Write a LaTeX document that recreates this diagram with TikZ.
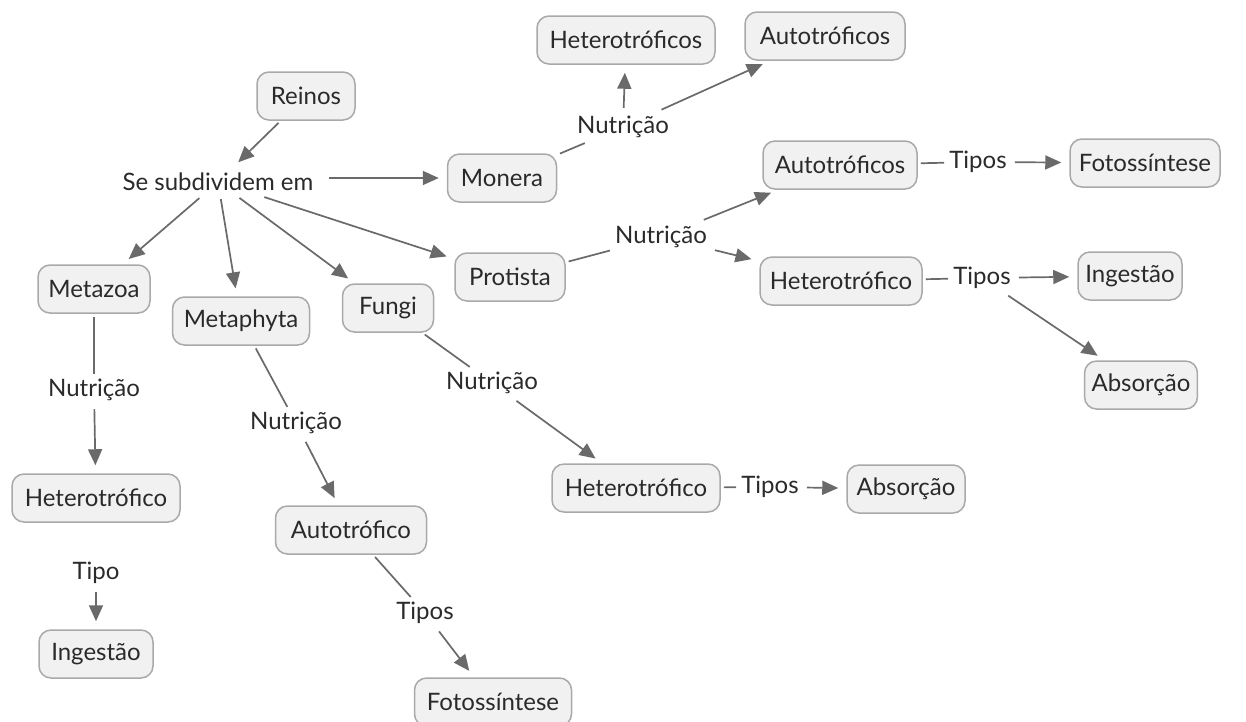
\documentclass[tikz,border=0pt]{standalone}
\usepackage{fontspec}
\setmainfont{Lato}
\usetikzlibrary{arrows.meta}
\definecolor{lnc}{HTML}{6A6A6A}
\definecolor{bd}{HTML}{A9A9A9}
\definecolor{bx}{HTML}{F1F1F1}
\definecolor{tx}{HTML}{2A2A2A}
\begin{document}
\begin{tikzpicture}[x=1pt,y=-1pt,
 every node/.style={font=\fontsize{24}{28}\selectfont, text=tx},
 cbox/.style={draw=bd, line width=1.5pt, fill=bx, rounded corners=12pt, minimum height=48pt, minimum width=#1, inner sep=7pt},
 lbl/.style={inner sep=5pt},
 ln/.style={draw=lnc, line width=1.7pt, shorten <=3pt},
 arr/.style={ln, -{Triangle[length=16pt,width=14pt]}, shorten >=8pt}]
\useasboundingbox[fill=white] (0,0) rectangle (1246,721);
% nodes
\node[cbox=98pt] (reinos) at (306,96) {Reinos};
\node[lbl] (se) at (218,182) {Se subdividem em};
\node[cbox=109pt] (monera) at (502,178) {Monera};
\node[lbl] (nutM) at (623,127) {Nutrição};
\node[cbox=178pt] (hetM) at (626,40) {Heterotróficos};
\node[cbox=160pt] (autM) at (825,36) {Autotróficos};
\node[cbox=110pt] (protista) at (510,277) {Protista};
\node[lbl] (nutP) at (661,237) {Nutrição};
\node[cbox=154pt] (autP) at (840,165) {Autotróficos};
\node[lbl] (tipAP) at (978,162) {Tipos};
\node[cbox=150pt] (fotP) at (1145,163) {Fotossíntese};
\node[cbox=162pt] (hetP) at (841,281) {Heterotrófico};
\node[lbl] (tipHP) at (982,278) {Tipos};
\node[cbox=104pt] (ingP) at (1130,276) {Ingestão};
\node[cbox=112pt] (absP) at (1141,385) {Absorção};
\node[cbox=112pt] (metazoa) at (94,289) {Metazoa};
\node[lbl] (nutMz) at (94,390) {Nutrição};
\node[cbox=168pt] (hetMz) at (96,498) {Heterotrófico};
\node[lbl] (tipMz) at (96,573) {Tipo};
\node[cbox=114pt] (ingMz) at (96,654) {Ingestão};
\node[cbox=137pt] (metaphyta) at (241,321) {Metaphyta};
\node[lbl] (nutMp) at (296,423) {Nutrição};
\node[cbox=151pt] (autMp) at (351,530) {Autotrófico};
\node[lbl] (tipMp) at (425,613) {Tipos};
\node[cbox=157pt] (fotMp) at (493,702) {Fotossíntese};
\node[cbox=91pt] (fungi) at (388,308) {Fungi};
\node[lbl] (nutF) at (492,383) {Nutrição};
\node[cbox=168pt] (hetF) at (636,488) {Heterotrófico};
\node[lbl] (tipF) at (770,487) {Tipos};
\node[cbox=118pt] (absF) at (906,489) {Absorção};
% connectors
\draw[arr] (reinos) -- (se);
\draw[arr, shorten <=10pt] (se.east |- monera) -- (monera);
\draw[arr] (se) -- (metazoa);
\draw[arr] (se) -- (metaphyta);
\draw[arr] (se) -- (fungi);
\draw[arr] (se) -- (protista);
\draw[ln] (monera) -- (nutM);
\draw[arr] (nutM) -- (hetM);
\draw[arr] (nutM) -- (autM);
\draw[ln] (protista) -- (nutP);
\draw[arr] (nutP) -- (autP);
\draw[arr] (nutP) -- (hetP);
\draw[ln] (autP) -- (tipAP);
\draw[arr] (tipAP) -- (fotP);
\draw[ln] (hetP) -- (tipHP);
\draw[arr] (tipHP) -- (ingP);
\draw[arr] (tipHP) -- (absP);
\draw[ln] (metazoa) -- (nutMz);
\draw[arr] (nutMz) -- (hetMz);
\draw[arr] (tipMz) -- (ingMz);
\draw[ln] (metaphyta) -- (nutMp);
\draw[arr] (nutMp) -- (autMp);
\draw[ln] (autMp) -- (tipMp);
\draw[arr] (tipMp) -- (fotMp);
\draw[ln] (fungi) -- (nutF);
\draw[arr] (nutF) -- (hetF);
\draw[ln] (hetF) -- (tipF);
\draw[arr] (tipF) -- (absF);
\end{tikzpicture}
\end{document}
